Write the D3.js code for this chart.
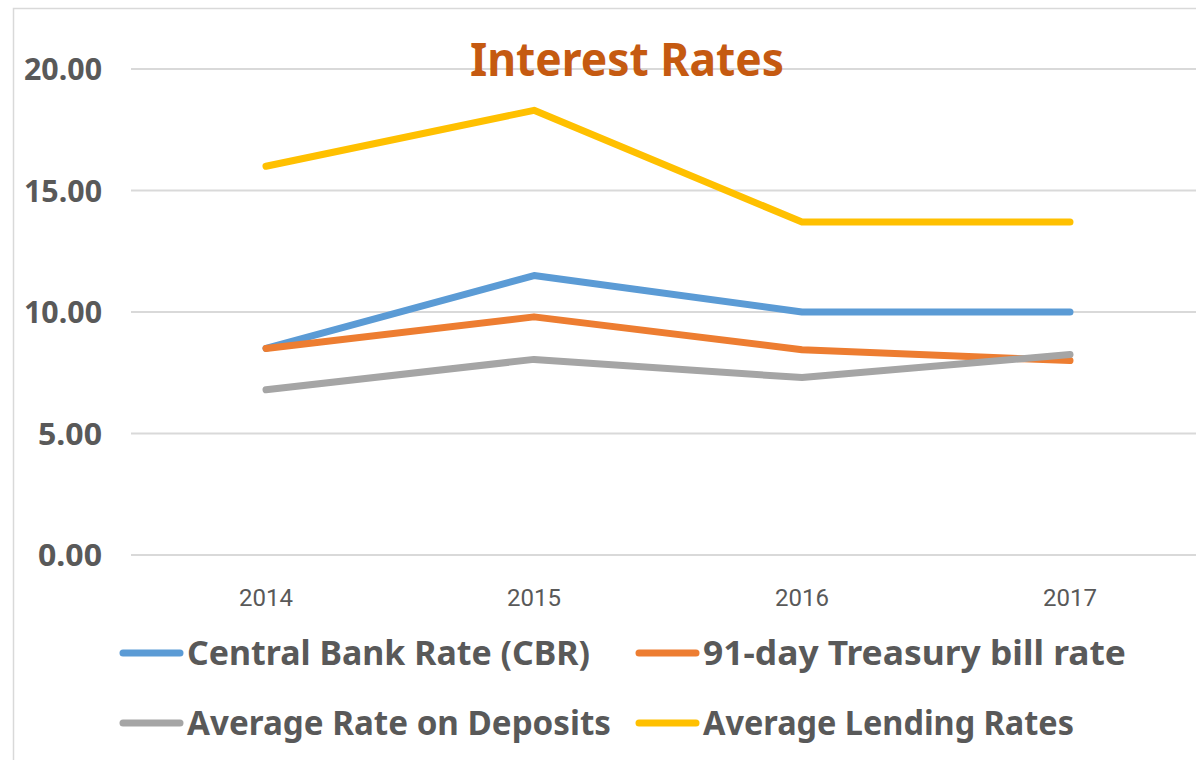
<!DOCTYPE html>
<html>
<head>
<meta charset="utf-8">
<script src="https://cdn.jsdelivr.net/npm/d3@7"></script>
<style>
  body { margin: 0; background: #fff; }
  text { font-family: "Comic Sans MS", "Noto Sans", "DejaVu Sans", sans-serif; }
</style>
</head>
<body>
<div id="chart"></div>
<script>
// data
var years = ["2014", "2015", "2016", "2017"];
var cbr = [8.5, 11.5, 10.0, 10.0];
var tbill = [8.5, 9.8, 8.45, 8.0];
var deposits = [6.8, 8.05, 7.3, 8.25];
var lending = [16.0, 18.3, 13.7, 13.7];
var yTicks = [0, 5, 10, 15, 20];

var seriesNames = ["Central Bank Rate (CBR)", "91-day Treasury bill rate", "Average Rate on Deposits", "Average Lending Rates"];
var seriesColors = ["#5B9BD5", "#ED7D31", "#A5A5A5", "#FFC000"];
var seriesValues = [cbr, tbill, deposits, lending];

var width = 1196, height = 760;

var svg = d3.select("#chart").append("svg")
    .attr("width", width)
    .attr("height", height);

// chart border
svg.append("rect")
    .attr("x", 13.5).attr("y", 8.5)
    .attr("width", 1200).attr("height", 800)
    .attr("fill", "none")
    .attr("stroke", "#D9D9D9")
    .attr("stroke-width", 1.5);

var x = d3.scaleBand().domain(years).range([132, 1204]);
var y = d3.scaleLinear().domain([0, 20]).range([555, 69]);

// gridlines
svg.selectAll("line.grid")
    .data(yTicks)
    .enter().append("line")
    .attr("class", "grid")
    .attr("x1", 131).attr("x2", 1196)
    .attr("y1", d => y(d)).attr("y2", d => y(d))
    .attr("stroke", "#D9D9D9")
    .attr("stroke-width", 2);

// y labels
svg.selectAll("text.ylab")
    .data(yTicks)
    .enter().append("text")
    .attr("class", "ylab")
    .attr("x", 102)
    .attr("y", d => y(d) + 11)
    .attr("text-anchor", "end")
    .attr("font-size", 31)
    .attr("font-weight", "bold")
    .attr("fill", "#595959")
    .attr("textLength", d => d >= 10 ? 78 : 64)
    .attr("lengthAdjust", "spacingAndGlyphs")
    .text(d => d3.format(".2f")(d));

// x labels
svg.selectAll("text.xlab")
    .data(years)
    .enter().append("text")
    .attr("class", "xlab")
    .attr("x", d => x(d) + x.bandwidth() / 2)
    .attr("y", 606)
    .attr("text-anchor", "middle")
    .attr("font-size", 24)
    .attr("fill", "#595959")
    .style("font-family", "'Liberation Sans Narrow', 'Roboto', sans-serif")
    .text(d => d);

// lines
var line = d3.line()
    .x((d, i) => x(years[i]) + x.bandwidth() / 2)
    .y(d => y(d));

svg.selectAll("path.series")
    .data(seriesValues)
    .enter().append("path")
    .attr("class", "series")
    .attr("d", d => line(d))
    .attr("fill", "none")
    .attr("stroke", (d, i) => seriesColors[i])
    .attr("stroke-width", 7)
    .attr("stroke-linecap", "round")
    .attr("stroke-linejoin", "round");

// title
svg.append("text")
    .attr("x", 627)
    .attr("y", 76)
    .attr("text-anchor", "middle")
    .attr("font-size", 46)
    .attr("font-weight", "bold")
    .attr("fill", "#C55A11")
    .attr("textLength", 314)
    .attr("lengthAdjust", "spacingAndGlyphs")
    .text("Interest Rates");

// legend
var legendX = [120, 636];
var legendY = [653, 723];
var legendW = [403, 423, 424, 371];

seriesNames.forEach(function(name, i) {
    var lx = legendX[i % 2], ly = legendY[Math.floor(i / 2)];
    svg.append("line")
        .attr("x1", lx + 3).attr("x2", lx + 60)
        .attr("y1", ly).attr("y2", ly)
        .attr("stroke", seriesColors[i])
        .attr("stroke-width", 7)
        .attr("stroke-linecap", "round");
    svg.append("text")
        .attr("x", lx + 67)
        .attr("y", ly + 12)
        .attr("font-size", 34)
        .attr("font-weight", "bold")
        .attr("fill", "#595959")
        .attr("textLength", legendW[i])
        .attr("lengthAdjust", "spacingAndGlyphs")
        .text(name);
});
</script>
</body>
</html>
